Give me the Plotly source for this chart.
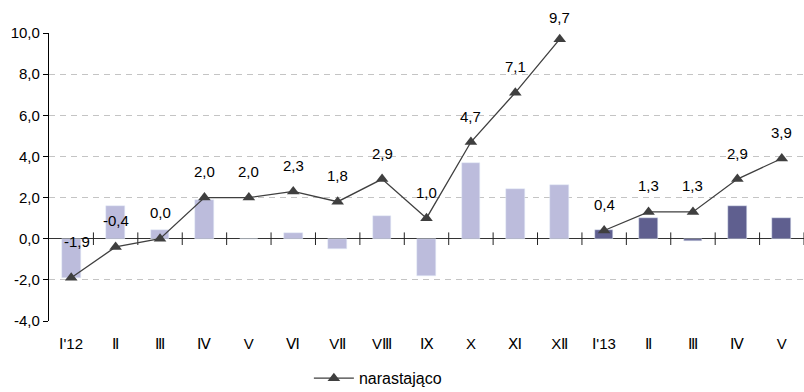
import plotly.graph_objects as go

# Months (Jan 2012 - May 2013)
months = ["Ⅰ'12", "Ⅱ", "Ⅲ", "Ⅳ", "V", "Ⅵ", "VⅡ", "VⅢ", "Ⅸ", "X", "Ⅺ", "XⅡ",
          "Ⅰ'13", "Ⅱ", "Ⅲ", "Ⅳ", "V"]
# Monthly change, 2012 and 2013
monthly_2012 = [-1.9, 1.6, 0.4, 1.9, 0.0, 0.3, -0.5, 1.1, -1.8, 3.7, 2.4, 2.6]
monthly_2013 = [0.4, 1.0, -0.1, 1.6, 1.0]
# Cumulative change since the start of each year
cumulative_2012 = [-1.9, -0.4, 0.0, 2.0, 2.0, 2.3, 1.8, 2.9, 1.0, 4.7, 7.1, 9.7]
cumulative_2013 = [0.4, 1.3, 1.3, 2.9, 3.9]
series_name = "narastająco"
# Y-axis ticks
y_ticks = [-4, -2, 0, 2, 4, 6, 8, 10]


def fmt(v):
    """Polish-style number: comma decimal, plain hyphen for negatives."""
    return f"{v:.1f}".replace(".", ",")


FONT = "Liberation Sans, Arial, sans-serif"
LINE_COLOR = "#3f3f3f"
LIGHT_BAR = "#bcbcdc"
DARK_BAR = "#5f5f8f"

x12 = list(range(len(monthly_2012)))
x13 = list(range(len(monthly_2012), len(months)))

fig = go.Figure()

fig.add_trace(go.Bar(x=x12, y=monthly_2012, marker_color=LIGHT_BAR,
                     width=0.42, showlegend=False, hoverinfo="skip"))
fig.add_trace(go.Bar(x=x13, y=monthly_2013, marker_color=DARK_BAR,
                     width=0.42, showlegend=False, hoverinfo="skip"))

# Category separators crossing the zero axis
fig.add_trace(go.Scatter(
    x=[i + 0.5 for i in range(len(months))], y=[0] * len(months),
    mode="markers", cliponaxis=False, showlegend=False, hoverinfo="skip",
    marker=dict(symbol="line-ns", size=9, line=dict(color="#222222", width=1)),
))

# Cumulative line, broken between the two years
cum_x = x12 + [None] + x13
cum_y = cumulative_2012 + [None] + cumulative_2013
fig.add_trace(go.Scatter(
    x=cum_x, y=cum_y, mode="lines+markers", name=series_name,
    connectgaps=False, cliponaxis=False,
    line=dict(color=LINE_COLOR, width=1.3),
    marker=dict(symbol="triangle-up", size=11, color=LINE_COLOR),
))

# Value labels above the cumulative points
label_offsets = {0: (6, 36), 11: (0, 22)}
for xi, v in zip(x12 + x13, cumulative_2012 + cumulative_2013):
    dx, dy = label_offsets.get(xi, (0, 26))
    fig.add_annotation(x=xi, y=v, text=fmt(v),
                       showarrow=False, xshift=dx, yshift=dy,
                       font=dict(family=FONT, size=15, color="#000000"))

fig.update_layout(
    width=804, height=392,
    margin=dict(l=49, r=0, t=33, b=71, autoexpand=False),
    paper_bgcolor="white", plot_bgcolor="white",
    bargap=0, barmode="overlay",
    font=dict(family=FONT, size=15, color="#000000"),
    legend=dict(orientation="h", xref="container", x=0.47, xanchor="center",
                yref="container", y=0.035, yanchor="middle",
                font=dict(family=FONT, size=16),
                itemwidth=40, bgcolor="rgba(0,0,0,0)"),
    xaxis=dict(range=[-0.5, len(months) - 0.5], tickmode="array",
               tickvals=list(range(len(months))), ticktext=months,
               showgrid=False, zeroline=False, showline=False,
               ticks="outside", ticklen=9, tickcolor="rgba(0,0,0,0)",
               tickfont=dict(family=FONT, size=15)),
    yaxis=dict(range=[-4, 10], tickmode="array", tickvals=y_ticks,
               ticktext=[fmt(t) for t in y_ticks],
               showgrid=True, gridcolor="#c4c4c4", griddash="6px,5px", gridwidth=1,
               zeroline=True, zerolinecolor="#333333", zerolinewidth=1.2,
               showline=True, linecolor="#000000", linewidth=1.2,
               ticks="outside", ticklen=5, tickcolor="#000000",
               tickfont=dict(family=FONT, size=15)),
    yaxis2=dict(range=[-4, 10], tickmode="array", tickvals=y_ticks,
                overlaying="y", side="left",
                showgrid=False, zeroline=False, showline=False,
                showticklabels=False, ticks="inside", ticklen=4,
                tickcolor="#000000"),
)

fig.write_html("out.html")
